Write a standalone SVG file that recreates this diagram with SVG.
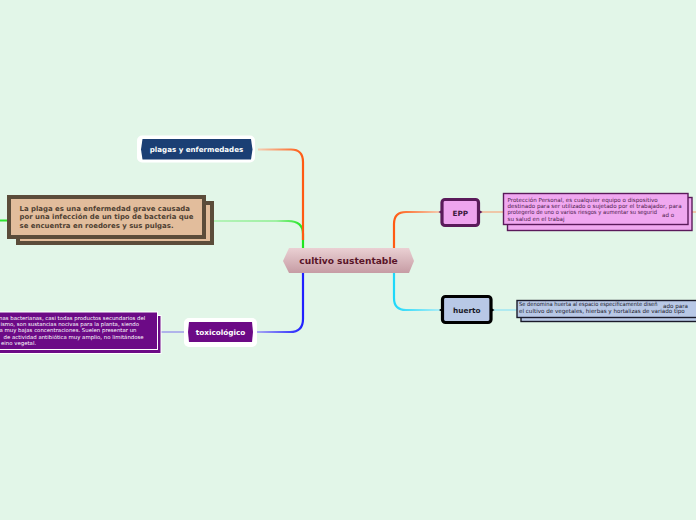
<svg xmlns="http://www.w3.org/2000/svg" width="696" height="520" viewBox="0 0 696 520">
<defs>
<linearGradient id="gC" x1="0" y1="0" x2="0" y2="1"><stop offset="0" stop-color="#ead0d3"/><stop offset="1" stop-color="#c69ca4"/></linearGradient>
<linearGradient id="gO1" gradientUnits="userSpaceOnUse" x1="258" y1="0" x2="303" y2="0"><stop offset="0" stop-color="#f4cfb4"/><stop offset="1" stop-color="#ff5a12"/></linearGradient>
<linearGradient id="gG1" gradientUnits="userSpaceOnUse" x1="213" y1="0" x2="303" y2="0"><stop offset="0" stop-color="#b4f2b8"/><stop offset="0.7" stop-color="#a0f0a4"/><stop offset="1" stop-color="#1ee61e"/></linearGradient>
<linearGradient id="gB1" gradientUnits="userSpaceOnUse" x1="257" y1="0" x2="303" y2="0"><stop offset="0" stop-color="#a8a8f2"/><stop offset="1" stop-color="#2020ff"/></linearGradient>
<linearGradient id="gO2" gradientUnits="userSpaceOnUse" x1="394" y1="0" x2="441" y2="0"><stop offset="0" stop-color="#ff5a12"/><stop offset="1" stop-color="#f4cfb4"/></linearGradient>
<linearGradient id="gC2" gradientUnits="userSpaceOnUse" x1="394" y1="0" x2="441" y2="0"><stop offset="0" stop-color="#1ed8fa"/><stop offset="1" stop-color="#b0eef6"/></linearGradient>
<style>
.c{fill:none;stroke-width:2.2;stroke-linecap:butt}
.t{font-family:"DejaVu Sans",Verdana,sans-serif;font-weight:bold}
.s{font-family:"DejaVu Sans",Verdana,sans-serif}
</style>
</defs>
<rect width="696" height="520" fill="#e2f6e8"/>
<g id="connectors">
<path class="c" d="M213,221 H288 Q303,221 303,234 V248" stroke="url(#gG1)"/>
<path class="c" d="M258,149.5 H291 Q303,149.5 303,162 V240" stroke="url(#gO1)"/>
<path class="c" d="M257,332 H290 Q303,332 303,319 V273" stroke="url(#gB1)"/>
<path class="c" d="M394,248 V224 Q394,212 406,212 H441" stroke="url(#gO2)"/>
<path class="c" d="M394,273 V298 Q394,310 406,310 H441" stroke="url(#gC2)"/>
<path d="M0,220.5 H9" stroke="#2ee62e" stroke-width="2"/>
<path d="M160,332 H184" stroke="#a4a4ea" stroke-width="1.6"/>
<path d="M480,212 H503" stroke="#f2bc98" stroke-width="1.6"/>
<path d="M692,212 H696" stroke="#f2bc98" stroke-width="1.6"/>
<path d="M492,310 H517" stroke="#a4e8f2" stroke-width="1.6"/>
</g>
<g id="central">
<polygon points="283,261 289,248 409,248 414,261 409,273 289,273" fill="url(#gC)"/>
<text x="348.5" y="264.3" text-anchor="middle" class="t" font-size="9.1" fill="#5a1428">cultivo sustentable</text>
</g>
<g id="plagas">
<rect x="137" y="135.5" width="118" height="27" rx="5" fill="#ffffff"/>
<polygon points="141,149.5 142.5,139 251,139 252.5,149.5 251,159.5 142.5,159.5" fill="#1b3f74"/>
<text x="196.5" y="152.2" text-anchor="middle" class="t" font-size="7.1" fill="#ffffff">plagas y enfermedades</text>
</g>
<g id="laplaga">
<rect x="18" y="203" width="194" height="40" fill="#e2bd9c" stroke="#5b4c3a" stroke-width="4"/>
<rect x="9" y="197" width="195" height="40" fill="#e2bd9c" stroke="#5b4c3a" stroke-width="4"/>
<text class="t" font-size="6.95" fill="#4e4032"><tspan x="19.5" y="211">La plaga es una enfermedad grave causada</tspan><tspan x="19.5" y="219.3">por una infección de un tipo de bacteria que</tspan><tspan x="19.5" y="227.6">se encuentra en roedores y sus pulgas.</tspan></text>
</g>
<g id="toxico">
<rect x="184" y="318" width="73" height="29" rx="5" fill="#ffffff"/>
<polygon points="188,332 189,322 252,322 253,332 252,342 189,342" fill="#6c0a86"/>
<text x="220.5" y="335.1" text-anchor="middle" class="t" font-size="7.3" fill="#ffffff">toxicológico</text>
</g>
<g id="toxinas">
<rect x="-10" y="315.5" width="171" height="38" fill="#6c0a86" stroke="#ffffff" stroke-width="1"/>
<rect x="-10" y="312" width="167.5" height="37.5" fill="#6c0a86" stroke="#ffffff" stroke-width="1"/>
<text class="s" font-size="5.4" fill="#ffffff"><tspan x="-1" y="319.8">nas bacterianas, casi todas productos secundarios del</tspan><tspan x="0.5" y="326.1">ismo, son sustancias nocivas para la planta, siendo</tspan><tspan x="-0.5" y="332.4">a muy bajas concentraciones. Suelen presentar un</tspan><tspan x="3.5" y="338.7">de actividad antibiótica muy amplio, no limitándose</tspan><tspan x="1" y="345">eino vegetal.</tspan></text>
</g>
<g id="epp">
<path d="M438.5,212 L441,210.5 V213.5 Z M482.5,212 L480,210.5 V213.5 Z" fill="#5a1a5a"/>
<rect x="442" y="199.5" width="36.5" height="26" rx="3" fill="#eea4ee" stroke="#5a1a5a" stroke-width="3.2"/>
<text x="460.3" y="215.6" text-anchor="middle" class="t" font-size="7.3" fill="#3c1a3c">EPP</text>
</g>
<g id="epptext">
<rect x="507.5" y="197.5" width="184.5" height="33" fill="#f0a8f0" stroke="#5a1a5a" stroke-width="1.4"/>
<rect x="503.5" y="193.5" width="184.5" height="31" fill="#f0a8f0" stroke="#5a1a5a" stroke-width="1.4"/>
<text class="s" font-size="5.6" fill="#4a1a4a"><tspan x="507.5" y="201.8">Protección Personal, es cualquier equipo o dispositivo</tspan><tspan x="507.5" y="207.8">destinado para ser utilizado o sujetado por el trabajador, para</tspan><tspan x="507.5" y="221">su salud en el trabaj</tspan></text>
<text x="507.5" y="213.6" class="s" font-size="5.6" fill="#4a1a4a" textLength="149.5" lengthAdjust="spacingAndGlyphs">protegerlo de uno o varios riesgos y aumentar su segurid</text>
<text x="662" y="216.5" class="s" font-size="5.6" fill="#4a1a4a">ad o</text>
</g>
<g id="huerto">
<path d="M439,310 L441.5,308.5 V311.5 Z M494.5,310 L492,308.5 V311.5 Z" fill="#000000"/>
<rect x="442.5" y="296.5" width="48.5" height="26" rx="3" fill="#b8c8e6" stroke="#000000" stroke-width="3.2"/>
<text x="466.8" y="312.6" text-anchor="middle" class="t" font-size="7.3" fill="#1a1a2a">huerto</text>
</g>
<g id="huertotext">
<rect x="521" y="304.5" width="178" height="17" fill="#b8c8e6" stroke="#1a1a2a" stroke-width="1.4"/>
<rect x="517" y="300.5" width="180" height="17" fill="#b8c8e6" stroke="#1a1a2a" stroke-width="1.4"/>
<text x="519" y="305.5" class="s" font-size="5.6" fill="#1a1a2a" textLength="138.5" lengthAdjust="spacingAndGlyphs">Se denomina huerta al espacio específicamente diseñ</text>
<text x="519" y="313.2" class="s" font-size="5.6" fill="#1a1a2a">el cultivo de vegetales, hierbas y hortalizas de variado tipo</text>
<text x="663" y="307.5" class="s" font-size="5.6" fill="#1a1a2a">ado para</text>
</g>
</svg>
